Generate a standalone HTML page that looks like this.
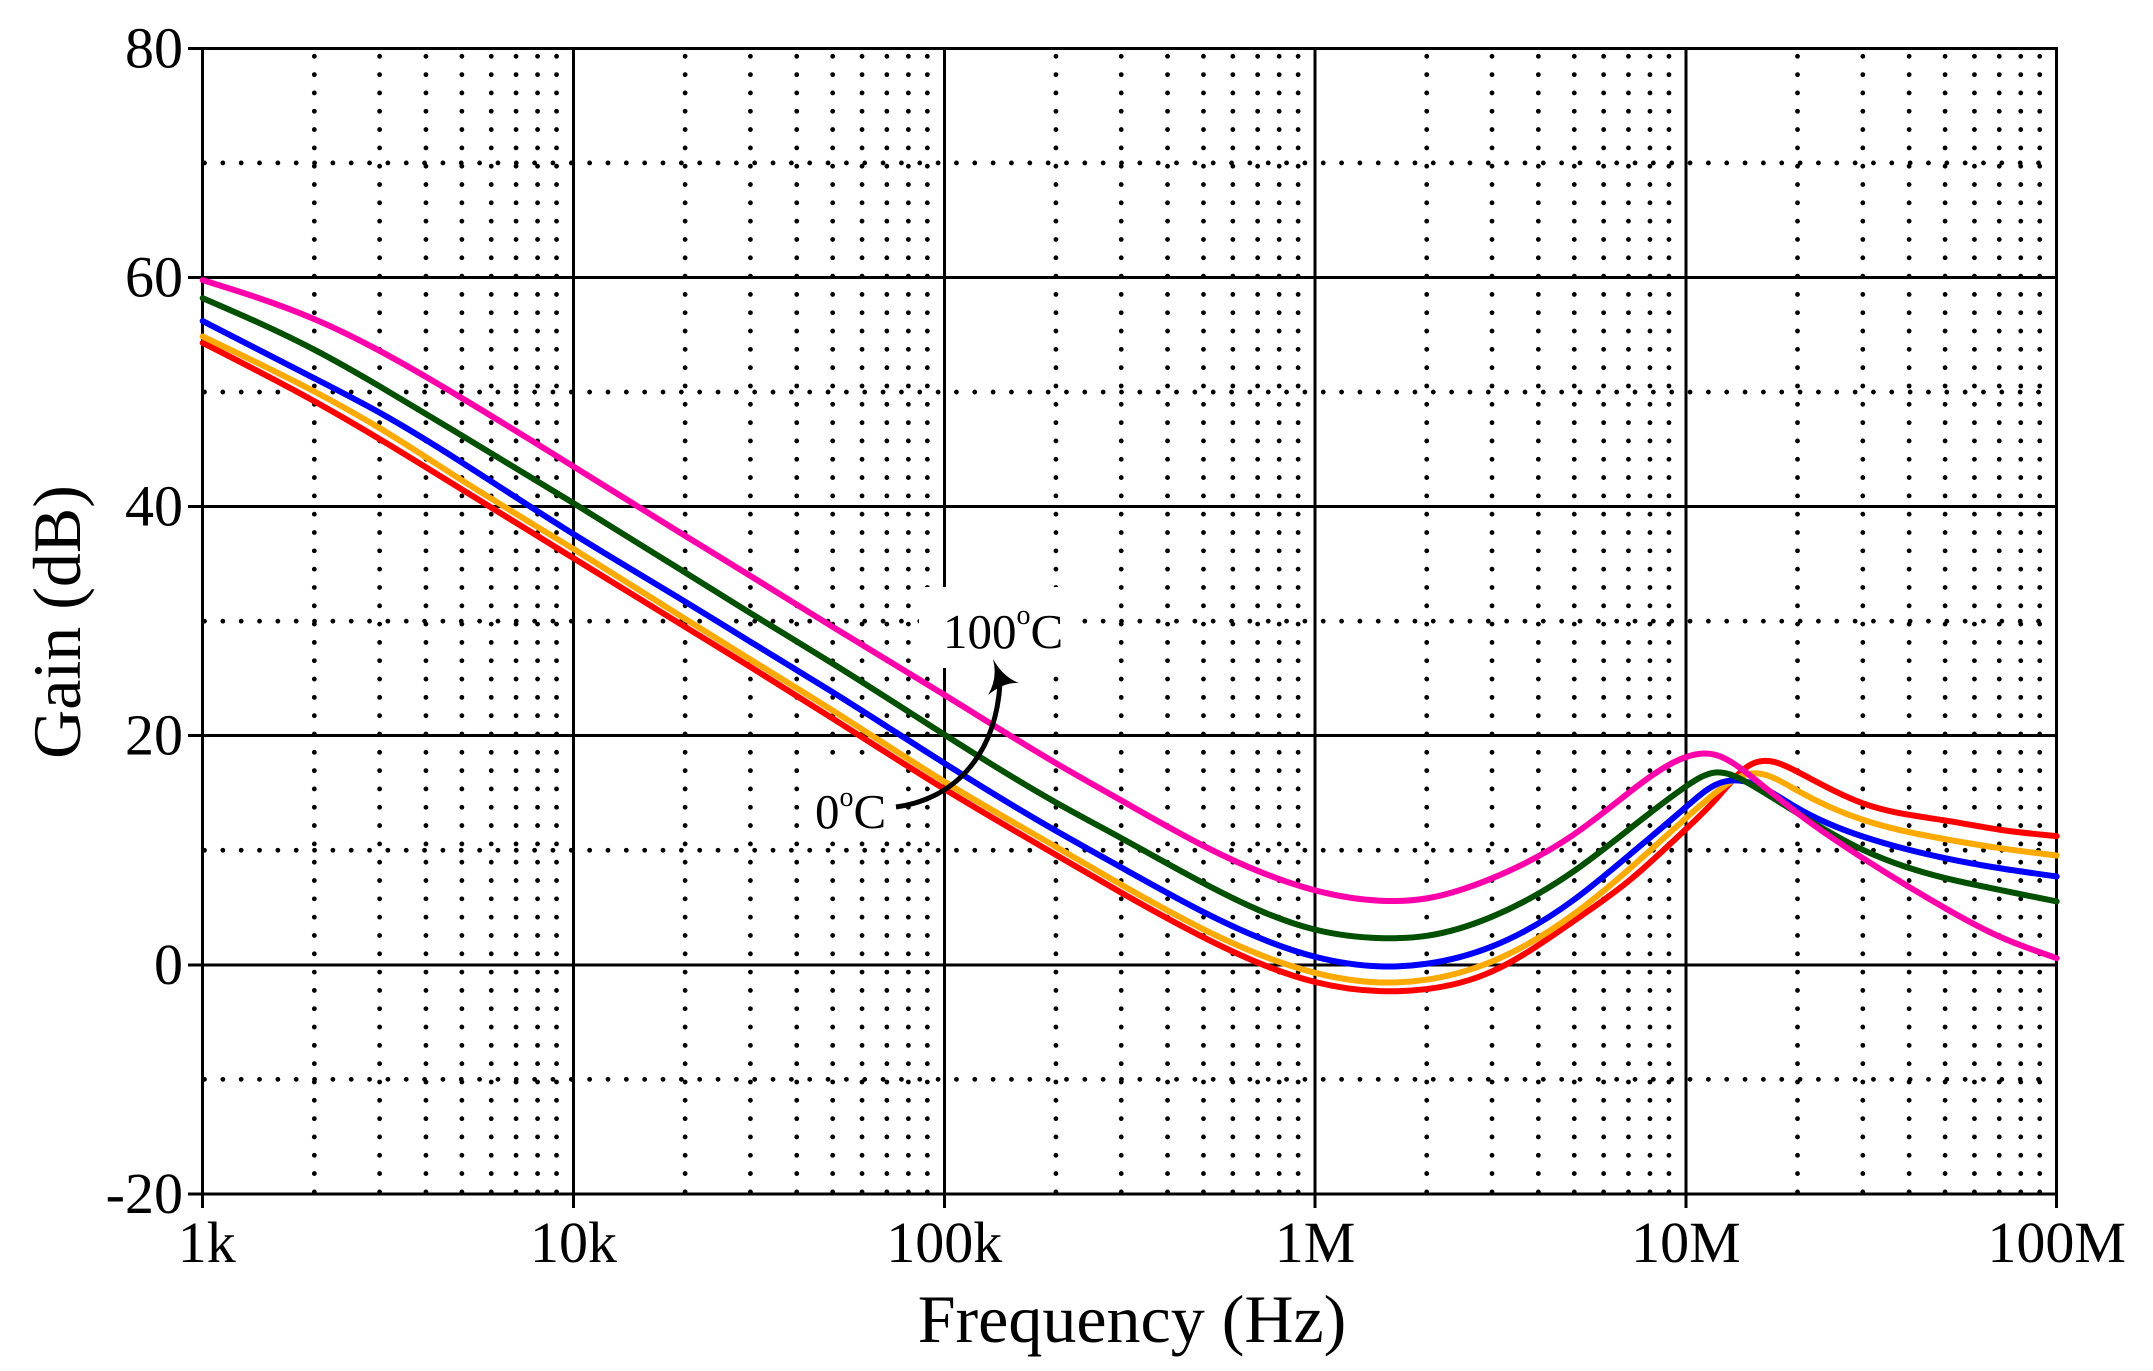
<!DOCTYPE html>
<html lang="en">
<head>
<meta charset="utf-8">
<title>Gain vs Frequency</title>
<style>
html,body{margin:0;padding:0;background:#fff;}
svg{display:block;font-family:"Liberation Serif","Times New Roman",serif;fill:#000;}
</style>
</head>
<body>
<svg id="chart" width="2153" height="1371" viewBox="0 0 2153 1371" xmlns="http://www.w3.org/2000/svg">
<rect x="0" y="0" width="2153" height="1371" fill="#fff"/>
<g id="grid-minor"></g>
<g id="grid-major"></g>
<rect x="919" y="587" width="159" height="81" fill="#fff"/>
<rect x="806" y="755" width="92" height="83" fill="#fff"/>
<g id="series-layer"></g>
<g id="tick-labels" font-size="58"></g>
<text x="1132" y="1342" font-size="68" text-anchor="middle">Frequency (Hz)</text>
<text transform="translate(80,622) rotate(-90)" font-size="68" text-anchor="middle">Gain (dB)</text>
<path d="M896 807 C950 800 995 760 1000 684" fill="none" stroke="#000" stroke-width="5"/>
<path d="M993 659 Q1003 677 1019 683 Q1004 682 988 695 Q998 678 993 659Z" fill="#000"/>
<text x="943" y="648" font-size="49">100<tspan dy="-24" font-size="28">o</tspan><tspan dy="24">C</tspan></text>
<text x="815" y="828" font-size="49">0<tspan dy="-22" font-size="28">o</tspan><tspan dy="22">C</tspan></text>
</svg>
<script>
const frequencies = [1e3,2e3,3e3,5e3,1e4,2e4,3e4,5e4,1e5,2e5,3e5,5e5,1e6,1.5e6,2e6,3e6,5e6,7e6,1e7,1.2e7,1.5e7,2e7,3e7,5e7,7e7,1e8];
const gainRed    = [54.3,49.2,45.9,41.5,35.5,29.5,26.0,21.5,15.35,9.6,6.3,2.4,-1.5,-2.3,-2.12,-0.58,3.85,7.3,11.84,14.4,17.5,16.85,14.1,12.6,11.8,11.23];
const gainOrange = [54.85,50.05,46.85,42.3,36.3,30.2,26.65,22.2,16.0,10.3,7.0,3.1,-0.7,-1.54,-1.3,0.29,4.45,8.3,12.8,15.0,16.7,15.2,12.66,10.97,10.19,9.54];
const gainBlue   = [56.2,51.2,48.2,43.85,37.6,31.7,28.2,23.8,17.6,11.7,8.5,4.6,0.7,-0.14,0.09,1.6,5.7,9.52,13.77,15.7,15.86,13.68,11.2,9.31,8.44,7.71];
const gainGreen  = [58.2,53.7,50.5,46.2,40.3,34.25,30.7,26.3,20.1,14.17,11.06,7.13,3.07,2.33,2.53,4.2,8.2,11.79,15.57,16.79,15.71,13.24,10.04,7.57,6.55,5.53];
const gainPink   = [59.77,56.37,53.6,49.47,43.5,37.45,33.95,29.5,23.57,17.6,14.35,10.39,6.5,5.59,5.8,7.55,11.4,15.0,18.13,18.33,16.44,13.24,9.31,4.95,2.47,0.58];

const xTickValues = [1e3,1e4,1e5,1e6,1e7,1e8];
const xTickLabels = ["1k","10k","100k","1M","10M","100M"];
const yTickValues = [80,60,40,20,0,-20];
const yTickLabels = ["80","60","40","20","0","-20"];
const yMinorValues = [70,50,30,10,-10];
const minorMultipliers = [2,3,4,5,6,7,8,9];
const minorDecades = [1e3,1e4,1e5,1e6,1e7];

const SVG_NS = "http://www.w3.org/2000/svg";
function xScale(f){ return 202.7 + 370.8 * Math.log10(f / 1000); }
function yScale(db){ return 964.8 - 11.455 * db; }
function makeEl(tag, attrs, parent){
  const el = document.createElementNS(SVG_NS, tag);
  for (const k in attrs) el.setAttribute(k, attrs[k]);
  parent.appendChild(el);
  return el;
}

const minorLayer = document.getElementById("grid-minor");
const majorLayer = document.getElementById("grid-major");
const seriesLayer = document.getElementById("series-layer");
const labelLayer = document.getElementById("tick-labels");

const plotLeft = xScale(1e3), plotRight = xScale(1e8);
const plotTop = yScale(80), plotBottom = yScale(-20);

minorDecades.forEach(function(d){
  minorMultipliers.forEach(function(m){
    const x = xScale(d * m);
    const el = makeEl("line", {x1:x, x2:x, y1:plotBottom - 2, y2:plotTop + 6, stroke:"#000", "stroke-width":4.8, "stroke-linecap":"round", "stroke-dasharray":"0 18.316"}, minorLayer);
    
    
  });
});
yMinorValues.forEach(function(v){
  const y = yScale(v);
  const el = makeEl("line", {x1:plotLeft + 1.8, x2:plotRight, y1:y, y2:y, stroke:"#000", "stroke-width":4.8, "stroke-linecap":"round", "stroke-dasharray":"0 18.34"}, minorLayer);
  
  
});

yTickValues.forEach(function(v, i){
  const y = yScale(v);
  const ln = makeEl("line", {x1:188, x2:plotRight + 1.4, y1:y, y2:y, stroke:"#000", "stroke-width":3, "shape-rendering":"crispEdges"}, majorLayer);
  
  
  const t = makeEl("text", {x:183, y:y + 19, "text-anchor":"end"}, labelLayer);
  t.textContent = yTickLabels[i];
  
  
});
xTickValues.forEach(function(v, i){
  const x = xScale(v);
  const ln = makeEl("line", {x1:x, x2:x, y1:plotTop, y2:1208, stroke:"#000", "stroke-width":3, "shape-rendering":"crispEdges"}, majorLayer);
  
  
  const t = makeEl("text", {x:x + (i === 0 ? 4 : 0), y:1262, "text-anchor":"middle"}, labelLayer);
  t.textContent = xTickLabels[i];
  
  
});

function splineSlopes(xs, ys){
  const n = xs.length;
  const a = new Array(n).fill(0), b = new Array(n).fill(0), c = new Array(n).fill(0), r = new Array(n).fill(0);
  const h0 = xs[1] - xs[0];
  b[0] = 2 / h0; c[0] = 1 / h0; r[0] = 3 * (ys[1] - ys[0]) / (h0 * h0);
  for (let i = 1; i < n - 1; i++){
    const hl = xs[i] - xs[i - 1], hr = xs[i + 1] - xs[i];
    a[i] = 1 / hl;
    b[i] = 2 / hl + 2 / hr;
    c[i] = 1 / hr;
    r[i] = 3 * ((ys[i] - ys[i - 1]) / (hl * hl) + (ys[i + 1] - ys[i]) / (hr * hr));
  }
  const hn = xs[n - 1] - xs[n - 2];
  a[n - 1] = 1 / hn; b[n - 1] = 2 / hn; r[n - 1] = 3 * (ys[n - 1] - ys[n - 2]) / (hn * hn);
  for (let i = 1; i < n; i++){
    const w = a[i] / b[i - 1];
    b[i] -= w * c[i - 1];
    r[i] -= w * r[i - 1];
  }
  const m = new Array(n);
  m[n - 1] = r[n - 1] / b[n - 1];
  for (let i = n - 2; i >= 0; i--) m[i] = (r[i] - c[i] * m[i + 1]) / b[i];
  return m;
}
function smoothPath(values){
  const xs = frequencies.map(xScale);
  const ys = values.map(yScale);
  const m = splineSlopes(xs, ys);
  let d = "M" + xs[0].toFixed(2) + " " + ys[0].toFixed(2);
  for (let i = 0; i < xs.length - 1; i++){
    const h = xs[i + 1] - xs[i];
    d += " C" + (xs[i] + h / 3).toFixed(2) + " " + (ys[i] + m[i] * h / 3).toFixed(2) + " " +
         (xs[i + 1] - h / 3).toFixed(2) + " " + (ys[i + 1] - m[i + 1] * h / 3).toFixed(2) + " " +
         xs[i + 1].toFixed(2) + " " + ys[i + 1].toFixed(2);
  }
  return d;
}
function drawSeries(values, color, name){
  const p = makeEl("path", {d:smoothPath(values), fill:"none", stroke:color, "stroke-width":6, "stroke-linecap":"round", "stroke-linejoin":"round"}, seriesLayer);
  
  
}
drawSeries(gainRed, "#ff0000", "series-red");
drawSeries(gainOrange, "#ffaa00", "series-orange");
drawSeries(gainBlue, "#0000ff", "series-blue");
drawSeries(gainGreen, "#005000", "series-green");
drawSeries(gainPink, "#ff00aa", "series-pink");
</script>
</body>
</html>
